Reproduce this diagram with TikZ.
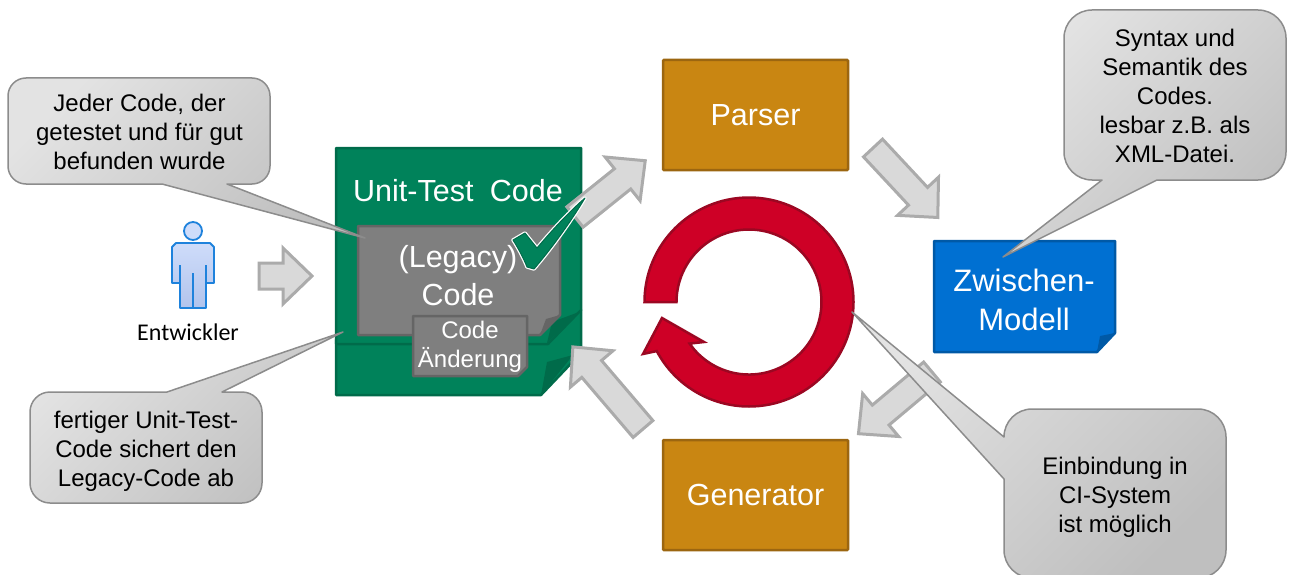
\documentclass[tikz,border=0pt]{standalone}
\usepackage{fontspec}
\usepackage{xcolor}
\usepackage{tikz}
\setmainfont{Liberation Sans}
\newfontfamily\calibrifont{Carlito}
\definecolor{ochre}{HTML}{C98612}
\definecolor{ochreline}{HTML}{9C6610}
\definecolor{bluebox}{HTML}{0070D2}
\definecolor{blueline}{HTML}{0059A6}
\definecolor{greenbox}{HTML}{00825A}
\definecolor{greenline}{HTML}{006B4A}
\definecolor{greybox}{HTML}{7F7F7F}
\definecolor{greyline}{HTML}{656565}
\definecolor{ringred}{HTML}{CE0026}
\definecolor{ringline}{HTML}{9B0722}
\definecolor{persontop}{HTML}{CEDCFA}
\definecolor{personlow}{HTML}{B2C4EC}
\definecolor{personline}{HTML}{1E82DC}
\tikzset{
  procbox/.style={draw=ochreline, fill=ochre, line width=2.5pt, rounded corners=1pt, minimum width=185pt, minimum height=110pt, text=white, font=\fontsize{30.5}{38}\selectfont},
  whitelabel/.style={text=white, align=center, inner sep=0pt},
  calltext/.style={align=center, inner sep=0pt, text=black, font=\fontsize{24}{29}\selectfont},
  callout/.style={draw=black!45, line width=1.5pt, top color=black!11, bottom color=black!25, shading angle=45, line join=round},
  blockarrow/.style={draw=black!33, fill=black!15, line width=3pt, miter limit=10},
  docgreen/.style={draw=greenline, fill=greenbox, line width=2.5pt, line join=round},
  docgrey/.style={draw=greyline, fill=greybox, line width=2.5pt, line join=round},
  personline/.style={draw=personline, line width=1.8pt, line join=round},
}
% block arrow: tail x, tail y, angle, length
\newcommand{\blockarr}[4]{
  \draw[blockarrow, shift={(#1,#2)}, rotate=#3] (0,13) -- ({#4-29},13) -- ({#4-29},28) -- (#4,0)
    -- ({#4-29},-28) -- ({#4-29},-13) -- (0,-13) -- cycle;
}
\begin{document}
\begin{tikzpicture}[x=1pt, y=-1pt]
\useasboundingbox (0,0) rectangle (1292,575);
% --- Person ---
\draw[personline, top color=persontop, bottom color=personlow]
  (172,283) -- (172,247) -- (176,243) -- (210,243) -- (214,247) -- (214,283) -- (206,283) -- (206,308)
  -- (180,308) -- (180,283) -- cycle;
\draw[personline] (180,265) -- (180,283) (206,265) -- (206,283) (193,273) -- (193,308);
\draw[personline, fill=persontop] (193,231) circle (9);
\node[inner sep=0pt, font=\calibrifont\fontsize{24}{28}\selectfont] (dev) at (188,332) {Entwickler};
\blockarr{259}{276}{0}{53}
% --- Unit-Test document ---
\draw[docgreen] (345,330) -- (572,306) -- (581,310) -- (581,353) -- (541,395) -- (336,395) -- (336,340) -- cycle;
\fill[greenline] (541,395) -- (547,362) -- (573,355) -- cycle;
\draw[docgreen] (336,148) -- (581,148) -- (581,310) -- (548,344) -- (336,344) -- cycle;
\fill[greenline] (547,343) -- (552,322) -- (579,312) -- cycle;
\node[whitelabel, font=\fontsize{30.5}{38}\selectfont] (unit) at (458,191) {Unit-Test\kern8pt{} Code};
\draw[docgrey] (358,226) -- (560,226) -- (560,315) -- (540,335) -- (358,335) -- cycle;
\fill[greyline] (540,335) -- (546,319) -- (560,315) -- cycle;
\node[whitelabel, font=\fontsize{30.5}{38}\selectfont] (legacy) at (458,276) {(Legacy)\\Code};
\draw[docgrey] (413,316) -- (527,316) -- (527,367) -- (518,376) -- (413,376) -- cycle;
\node[whitelabel, font=\fontsize{24}{29}\selectfont] (change) at (470,347) {Code\\Änderung};
% --- Cycle arrows ---
\blockarr{575}{217}{38.7}{90}
\blockarr{873}{148}{-47}{95}
\blockarr{932}{372}{-140}{96}
\blockarr{643}{429}{130.5}{108}
% --- Check mark ---
\draw[preaction={draw=white, line width=3.5pt, line join=round}, draw=greenline, fill=greenbox, line width=1pt, line join=round]
  (513,240) -- (525,233) -- (537,248) .. controls (553,229) and (570,211) .. (585,198)
  .. controls (572,220) and (552,248) .. (534,269) -- (527,267) .. controls (523,257) and (518,248) .. (513,240) -- cycle;
% --- Boxes ---
\node[procbox] (parser) at (755.5,115) {Parser};
\node[procbox] (generator) at (755.5,495) {Generator};
\draw[draw=blueline, fill=bluebox, line width=2.5pt, line join=round]
  (934,241) -- (1115,241) -- (1115,333) -- (1097,352) -- (934,352) -- cycle;
\fill[blueline] (1097,352) -- (1100,336) -- (1115,333) -- cycle;
\node[whitelabel, font=\fontsize{31}{39}\selectfont] (model) at (1024,300) {Zwischen-\\Modell};
% --- Ring ---
\draw[draw=ringline, fill=ringred, line width=2.5pt, line join=miter]
  (644.5,302) arc[start angle=180, end angle=512, radius=104.5] -- (643,354) -- (662,318) -- (704,342) -- (689.6,343.6)
  arc[start angle=505, end angle=180, radius=72.5] -- cycle;
% --- Callouts ---
\draw[callout, rounded corners=18pt] (8,78) -- (270,78) -- (270,184) [sharp corners] -- (227,184) -- (365,238) -- (162,184) [rounded corners=18pt] -- (8,184) -- cycle;
\node[calltext] (calla) at (139.5,132) {Jeder Code, der\\getestet und für gut\\befunden wurde};
\draw[callout, rounded corners=20pt] (30,392) [sharp corners] -- (167,392) -- (343,332) -- (222,392) [rounded corners=20pt] -- (262,392) -- (262,503) -- (30,503) -- cycle;
\node[calltext] (callb) at (146,451) {fertiger Unit-Test-\\Code sichert den\\Legacy-Code ab};
\draw[callout, rounded corners=28pt] (1064,10) -- (1286,10) -- (1286,180) [sharp corners] -- (1157,180) -- (1003,257) -- (1102,180) [rounded corners=28pt] -- (1064,180) -- cycle;
\node[calltext] (callc) at (1175,96) {Syntax und\\Semantik des\\Codes.\\lesbar z.B. als\\XML-Datei.};
\draw[callout, rounded corners=28pt] (1004,409) -- (1226,409) -- (1226,578) -- (1004,578) [sharp corners] -- (1004,479) -- (852,312) -- (1004,437) [rounded corners=28pt] -- cycle;
\node[calltext] (calld) at (1115,497) {Einbindung in\\CI-System\\ist möglich};
\end{tikzpicture}
\end{document}
